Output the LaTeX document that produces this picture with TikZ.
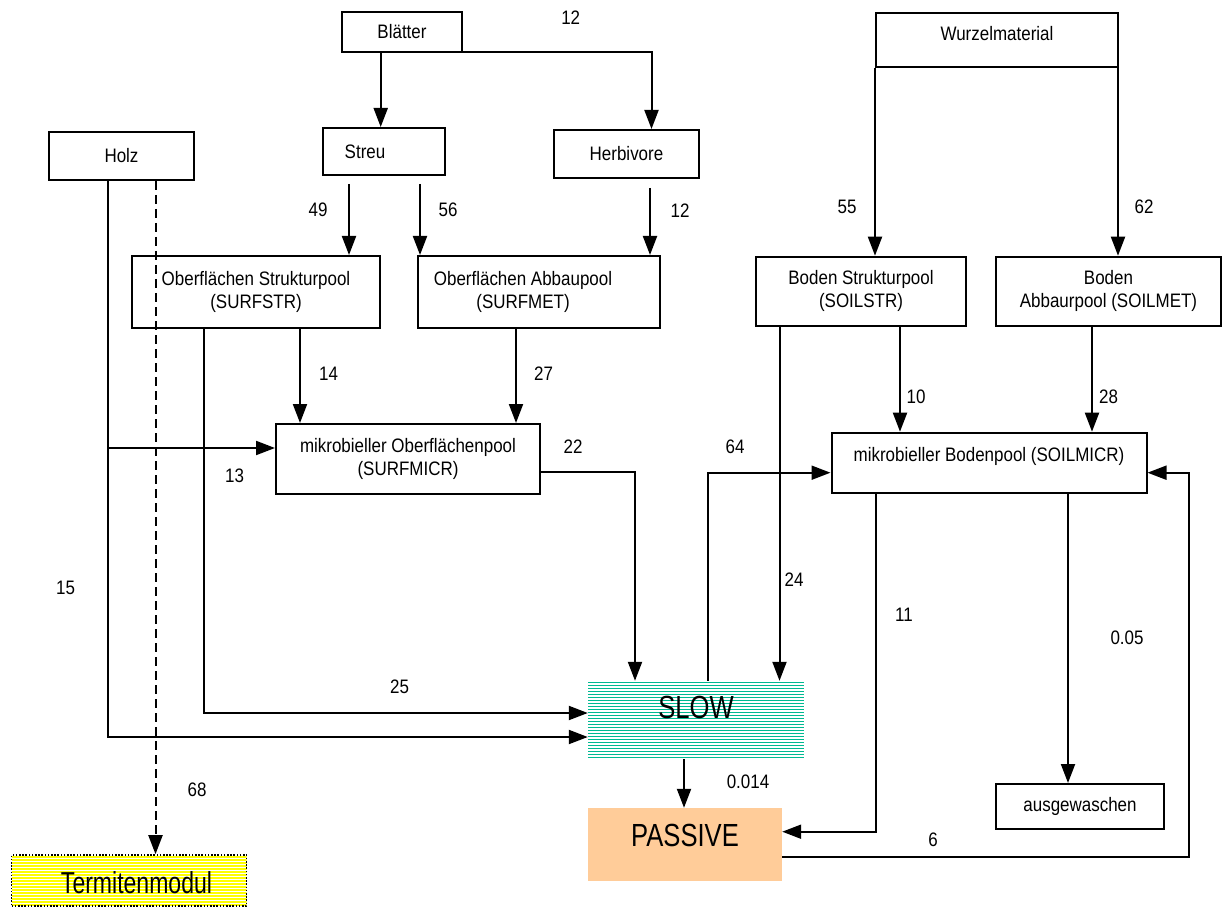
\documentclass[tikz,border=0pt]{standalone}
\usepackage{fontspec}
\setmainfont{Liberation Sans}[FakeStretch=0.87]
\newfontfamily\fontBigX{Liberation Sans}[FakeStretch=0.8]
\newfontfamily\fontTermX{Liberation Sans}[FakeStretch=0.76]
\usetikzlibrary{arrows.meta}
\definecolor{slowgreen}{RGB}{0,185,145}
\definecolor{peach}{RGB}{255,204,153}
\definecolor{stripeyellow}{RGB}{255,255,0}
\begin{document}
\begin{tikzpicture}[x=1pt,y=-1pt, font=\fontsize{19.5}{23.3}\selectfont,
  box/.style={draw, line width=2pt, inner sep=0pt, align=center},
  arr/.style={line width=2pt, -{Triangle[length=19pt,width=14pt]}},
  lbl/.style={inner sep=0pt},
  bigtxt/.style={font=\fontBigX\fontsize{32}{36}\selectfont},
  slowbox/.style={minimum width=216pt, minimum height=78pt, inner sep=0pt,
    path picture={\foreach \k in {0,...,25}{\draw[slowgreen,solid,line width=1.2pt]
      ([yshift=-\k*3pt-1.5pt]path picture bounding box.north west) --
      ([yshift=-\k*3pt-1.5pt]path picture bounding box.north east);}}},
  termbox/.style={minimum width=235pt, minimum height=51pt, inner sep=0pt,
    draw, line width=1.6pt, dash pattern=on 1.6pt off 1.6pt,
    path picture={\foreach \k in {0,...,16}{\draw[stripeyellow,solid,line width=2pt]
      ([yshift=-\k*3pt-1.5pt]path picture bounding box.north west) --
      ([yshift=-\k*3pt-1.5pt]path picture bounding box.north east);}}},
  passbox/.style={fill=peach, minimum width=194pt, minimum height=73pt, inner sep=0pt}
]
\useasboundingbox (0,0) rectangle (1223,909);

% boxes
\node[box, minimum width=120pt, minimum height=40pt] (bl) at (402,31.7) {Blätter};
\node[box, minimum width=122pt, minimum height=47pt, label={[xshift=-19pt]center:Streu}] (streu) at (384,151.5) {};
\node[box, minimum width=145pt, minimum height=48pt] (herb) at (626.5,154) {Herbivore};
\node[box, minimum width=145pt, minimum height=48pt] (holz) at (121.5,156) {Holz};
\node[box, minimum width=242pt, minimum height=54pt, label={[yshift=6pt]center:Wurzelmaterial}] (wurzel) at (997,39.7) {};
\node[box, minimum width=248pt, minimum height=72pt] (sstr) at (256,292) {Oberflächen Strukturpool\\(SURFSTR)};
\node[box, minimum width=242pt, minimum height=72pt, label={[xshift=-16pt,align=center]center:Oberflächen Abbaupool\\(SURFMET)}] (smet) at (539,292) {};
\node[box, minimum width=210pt, minimum height=69pt] (soilstr) at (861,291.2) {Boden Strukturpool\\(SOILSTR)};
\node[box, minimum width=225pt, minimum height=69pt] (soilmet) at (1108.5,291.2) {Boden\\Abbaurpool (SOILMET)};
\node[box, minimum width=264pt, minimum height=70pt] (smicr) at (408,459) {mikrobieller Oberflächenpool\\(SURFMICR)};
\node[box, minimum width=315pt, minimum height=60pt, label={[yshift=6pt]center:mikrobieller Bodenpool (SOILMICR)}] (bmicr) at (989,462.7) {};
\node[slowbox, label={[bigtxt,yshift=13pt]center:SLOW}] (slow) at (696,720) {};
\node[passbox, label={[bigtxt,yshift=9.5pt]center:PASSIVE}] (passive) at (685,844.5) {};
\node[box, minimum width=168pt, minimum height=45pt] (ausg) at (1080,806.5) {ausgewaschen};
\node[termbox, label={[font=\fontTermX\fontsize{30.3}{34}\selectfont,xshift=7.5pt,yshift=-2pt]center:Termitenmodul}] (termit) at (129,880.5) {};

% connectors
\coordinate (c1) at ([xshift=-21.3pt]bl.south);
\draw[arr] (c1) -- (c1 |- streu.north);
\draw[arr] ([xshift=-4pt,yshift=1pt]bl.south east) -| ([xshift=25pt]herb.north);
\coordinate (c3) at ([xshift=-35pt,yshift=-8pt]streu.south);
\draw[arr] (c3) -- (c3 |- sstr.north);
\coordinate (c4) at ([xshift=36pt,yshift=-8pt]streu.south);
\draw[arr] (c4) -- (c4 |- smet.north);
\coordinate (c5) at ([xshift=23.5pt,yshift=-9pt]herb.south);
\draw[arr] (c5) -- (c5 |- smet.north);
\coordinate (c6) at (wurzel.south west);
\draw[arr] (c6) -- (c6 |- soilstr.north);
\coordinate (c7) at ([xshift=-1pt]wurzel.south east);
\draw[arr] (c7) -- (c7 |- soilmet.north);
\coordinate (c8) at ([xshift=44pt]sstr.south);
\draw[arr] (c8) -- (c8 |- smicr.north);
\coordinate (c9) at ([xshift=-23pt]smet.south);
\draw[arr] (c9) -- (c9 |- smicr.north);
\coordinate (h0) at ([xshift=-13.5pt]holz.south);
\coordinate (hs) at ([yshift=-17pt]slow.west);
\draw[arr] (h0) |- (hs);
\coordinate (hm) at ([yshift=11pt]smicr.west);
\draw[arr] (h0 |- hm) -- (hm);
\coordinate (d0) at ([xshift=34pt]holz.south);
\draw[arr, dash pattern=on 9pt off 5pt] (d0) -- (d0 |- termit.north);
\coordinate (s0) at ([xshift=-52pt]sstr.south);
\coordinate (s1) at ([yshift=7pt]slow.west);
\draw[arr] (s0) |- (s1);
\draw[arr] ([yshift=-12.7pt]smicr.east) -| ([xshift=-61pt]slow.north);
\draw[arr] ([xshift=11.7pt]slow.north) |- ([yshift=-10pt]bmicr.west);
\coordinate (c24) at ([xshift=-81.5pt]soilstr.south);
\draw[arr] (c24) -- (c24 |- slow.north);
\coordinate (c10) at ([xshift=39pt]soilstr.south);
\draw[arr] (c10) -- (c10 |- bmicr.north);
\coordinate (c28) at ([xshift=-16.5pt]soilmet.south);
\draw[arr] (c28) -- (c28 |- bmicr.north);
\coordinate (c14) at ([xshift=-12pt]slow.south);
\draw[arr] (c14) -- (c14 |- passive.north);
\draw[arr] ([xshift=-113pt]bmicr.south) |- ([yshift=12.8pt]passive.east);
\coordinate (c05) at ([xshift=79pt]bmicr.south);
\draw[arr] (c05) -- (c05 |- ausg.north);
\coordinate (r1) at ([yshift=-12.2pt]passive.east);
\coordinate (rx) at ([xshift=41.3pt,yshift=-10pt]bmicr.east);
\draw[arr] (r1) -| (rx) -- ([yshift=-10pt]bmicr.east);

% flow labels
\node[lbl] (l12a) at (570.7,17.3) {12};
\node[lbl] (l49) at (318,210) {49};
\node[lbl] (l56) at (448,210) {56};
\node[lbl] (l12b) at (680,211) {12};
\node[lbl] (l55) at (847,207) {55};
\node[lbl] (l62) at (1144,207) {62};
\node[lbl] (l14) at (328.6,374) {14};
\node[lbl] (l27) at (543.6,374) {27};
\node[lbl] (l10) at (916,397) {10};
\node[lbl] (l28) at (1108.6,397) {28};
\node[lbl] (l64) at (735,447) {64};
\node[lbl] (l22) at (573,447) {22};
\node[lbl] (l13) at (234.6,476) {13};
\node[lbl] (l15) at (65.6,588) {15};
\node[lbl] (l24) at (794,580) {24};
\node[lbl] (l11) at (904,615) {11};
\node[lbl] (l005) at (1127,638) {0.05};
\node[lbl] (l25) at (399.6,687) {25};
\node[lbl] (l0014) at (748,781.7) {0.014};
\node[lbl] (l68) at (197,790) {68};
\node[lbl] (l6) at (933,840) {6};
\end{tikzpicture}
\end{document}
